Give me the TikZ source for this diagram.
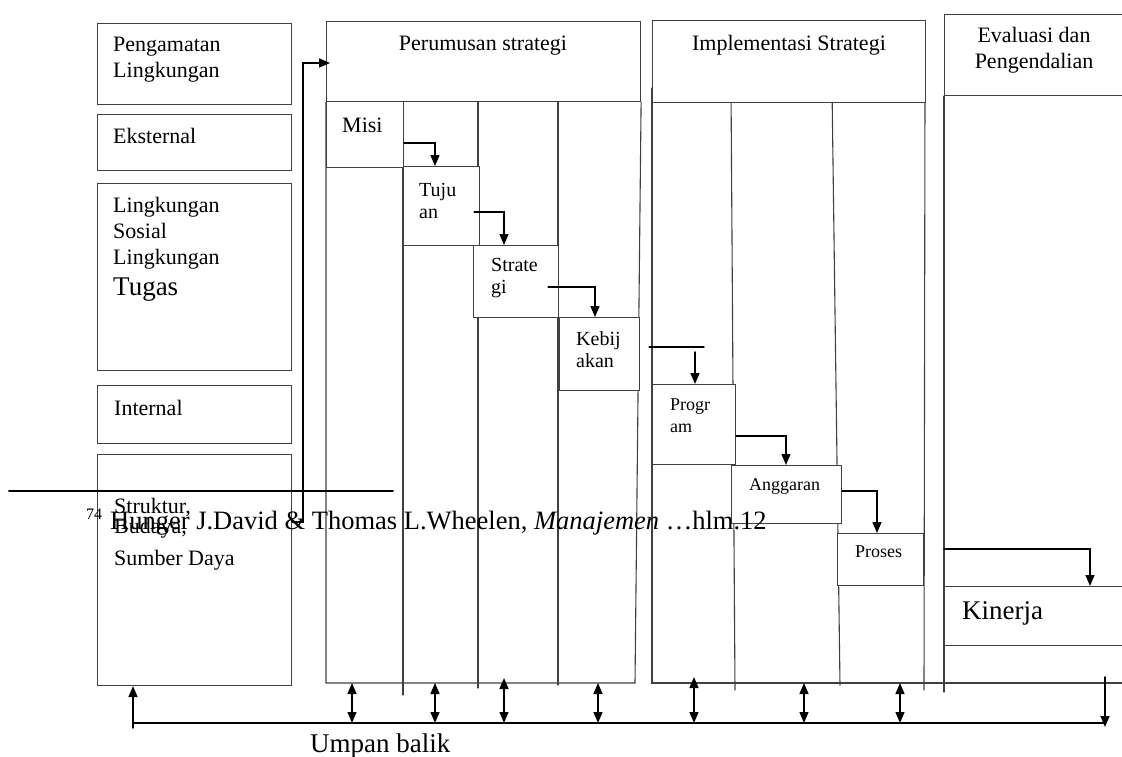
\documentclass[tikz,border=0pt]{standalone}
\usepackage{fontspec}
\setmainfont{Liberation Serif}
\usetikzlibrary{arrows.meta,calc}

\begin{document}
\begin{tikzpicture}
		[x=1pt,y=-1pt,line cap=round,
		%Styles
		box/.style={draw=boxcolor,fill=white,line width=1.1pt,inner sep=0pt,anchor=north west},
		frame line/.style={draw=boxcolor,line width=1.1pt},
		flow/.style={-{Triangle[width=9pt,length=11pt]},line width=1.4pt},
		both flow/.style={{Triangle[width=9pt,length=11pt]}-{Triangle[width=9pt,length=11pt]},line width=1.4pt},
		label text/.style={anchor=base west,inner sep=0pt,align=left,font=\fontsize{22}{25.5}\selectfont},
		title text/.style={anchor=base,inner sep=0pt,align=center,font=\fontsize{22}{26}\selectfont},
		step text/.style={label text,font=\fontsize{20}{22}\selectfont},
		small text/.style={label text,font=\fontsize{18}{22}\selectfont},
		big text/.style={label text,font=\fontsize{27}{31}\selectfont}
		]
		
		%Colors
		\colorlet{boxcolor}{black!75}	%box borders and column lines
		
		\useasboundingbox (0,0) rectangle (1122,756);
		
		%The graphic
		%(multi-line texts are placed at the baseline of their last line)
		
		%left column
		\node[box,minimum width=194pt,minimum height=81pt] (env) at (97,23) {};
		\node[box,minimum width=194pt,minimum height=56pt] (ext) at (97,114) {};
		\node[box,minimum width=194pt,minimum height=187pt] (sos) at (97,183) {};
		\node[box,minimum width=194pt,minimum height=58pt] (int) at (97,385) {};
		\node[box,minimum width=194pt,minimum height=231pt] (str) at (97,454) {};
		
		\node[label text] (envtext) at (113,77) {Pengamatan\\Lingkungan};
		\node[label text] (exttext) at (113,143) {Eksternal};
		\node[label text,font=\fontsize{22}{26}\selectfont] (sostext) at (113,264) {Lingkungan\\Sosial\\Lingkungan};
		\node[big text] (tugastext) at (113,295) {Tugas};
		\node[label text] (inttext) at (114,415) {Internal};
		\node[label text] (strtext) at (114,565) {Struktur,\\[-5.5pt]Budaya,\\[6.5pt]Sumber Daya};
		
		%perumusan strategi
		\foreach \x/\y in {403/695,478/688,558/685}
			\draw[frame line] (\x,101) -- (\x,\y);
		\node[box,minimum width=314pt,minimum height=80pt] (perhead) at (326,21) {};
		\draw[frame line] (perhead.south west) -- (326,683) -- (635,683) -- (perhead.south east);
		\node[title text] (pertitle) at (483,50) {Perumusan strategi};
		
		%implementasi strategi
		\draw[frame line] (731,88) -- (735,690);
		\draw[frame line] (832,88) -- (840,685);
		\draw[frame line] (925,88) -- (924,690);
		\draw[frame line] (652,88) -- (652,683) -- (1122,683);
		\node[box,minimum width=273pt,minimum height=82pt] (imphead) at (652,20) {};
		\node[title text] (imptitle) at (789,50) {Implementasi Strategi};
		
		%evaluasi dan pengendalian
		\node[box,minimum width=181pt,minimum height=81pt] (evahead) at (944,14) {};
		\draw[frame line] (evahead.south west) -- (944,692);
		\node[title text] (evatitle) at (1034,68) {Evaluasi dan\\Pengendalian};
		
		%steps
		\node[box,minimum width=77pt,minimum height=66pt] (misi) at (326,101) {};
		\node[box,minimum width=76pt,minimum height=79pt] (tujuan) at (403,166) {};
		\node[box,minimum width=85pt,minimum height=72pt] (strategi) at (473,245) {};
		\node[box,minimum width=80pt,minimum height=73pt] (kebijakan) at (559,317) {};
		\node[box,minimum width=83pt,minimum height=80pt] (program) at (652,384) {};
		\node[box,minimum width=110pt,minimum height=58pt] (anggaran) at (731,465) {};
		\node[box,minimum width=86pt,minimum height=52pt] (proses) at (837,533) {};
		\node[box,minimum width=181pt,minimum height=59pt] (kinerja) at (944,586) {};
		
		\node[label text] (misitext) at (342,132) {Misi};
		\node[step text] (tujuantext) at (419,218) {Tuju\\an};
		\node[step text] (strategitext) at (491,293) {Strate\\gi};
		\node[step text] (kebijakantext) at (576,367) {Kebij\\akan};
		\node[small text] (programtext) at (670,432) {Progr\\am};
		\node[small text] (anggarantext) at (749,490) {Anggaran};
		\node[small text] (prosestext) at (855,557) {Proses};
		\node[big text] (kinerjatext) at (962,619) {Kinerja};
		
		%flow between the steps
		\draw[flow] (str.east |- 0,522) -- (303,522) |- ($(perhead.west |- 0,63)+(4,0)$);
		\draw[flow] (misi.east |- 0,143) -| (435,0 |- tujuan.north);
		\draw[flow] ($(tujuan.east |- 0,212)+(-6,0)$) -| (504,0 |- strategi.north);
		\draw[flow] ($(strategi.east |- 0,287)+(-11,0)$) -| (595,0 |- kebijakan.north);
		\draw[line width=1.4pt] ($(kebijakan.east |- 0,347)+(9,0)$) -- (704,347);
		\draw[flow] (695,352) -- (695,0 |- program.north);
		\draw[flow] (program.east |- 0,436) -| (786,0 |- anggaran.north);
		\draw[flow] (anggaran.east |- 0,491) -| (877,0 |- proses.north);
		\draw[flow] (kinerja.west |- 0,549) -| (1090,0 |- kinerja.north);
		
		%umpan balik
		\draw[line width=1.2pt] (133,723) -- (1105,723);
		\draw[flow] (133,728) -- (str.south -| 133,0);
		\draw[flow] (1105,677) -- (1105,727);
		\foreach \x/\y in {352/683,435/683,504/678,598/683,694/677,804/683,900/683}
			\draw[both flow] (\x,\y) -- (\x,723);
		\node[big text] (umpantext) at (310,752) {Umpan balik};
		
		%footnote
		\draw[line width=2pt] (9,491) -- (393,491);
		\node[label text,font=\fontsize{16}{18}\selectfont] (fnmark) at (86,519) {74};
		\node[label text,font=\fontsize{26.5}{30}\selectfont] (fntext) at (110,529) {Hunger J.David \& Thomas L.Wheelen, \textit{Manajemen} …hlm.12};
	\end{tikzpicture}
\end{document}
